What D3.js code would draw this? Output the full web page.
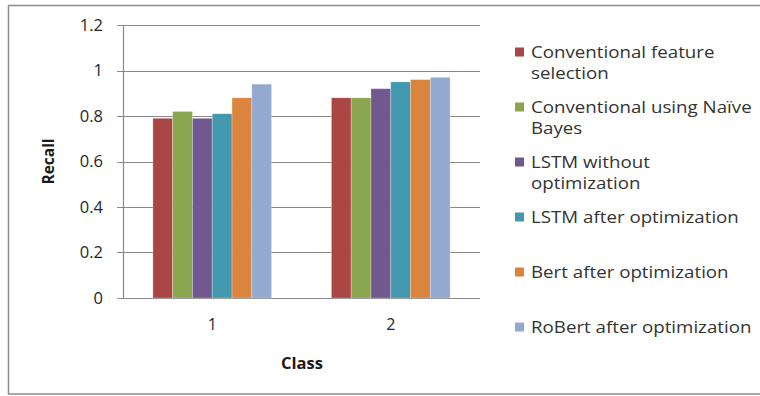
<!DOCTYPE html>
<html>
<head>
<meta charset="utf-8">
<script src="https://cdn.jsdelivr.net/npm/d3@7/dist/d3.min.js"></script>
<style>
  html, body { margin: 0; padding: 0; background: #fff; }
  svg { display: block; }
  text { font-family: "Open Sans", "DejaVu Sans", sans-serif; }
</style>
</head>
<body>
<svg id="chart" width="760" height="396"></svg>
<script>
// Recall per class for each method
const categories = ["1", "2"];
const seriesNames = [
  "Conventional feature selection",
  "Conventional using Naïve Bayes",
  "LSTM without optimization",
  "LSTM after optimization",
  "Bert after optimization",
  "RoBert after optimization"
];
const conventionalFeature = [0.79, 0.88];
const conventionalNB = [0.82, 0.88];
const lstmWithout = [0.79, 0.92];
const lstmAfter = [0.81, 0.95];
const bertAfter = [0.88, 0.96];
const robertAfter = [0.94, 0.97];
const seriesValues = [conventionalFeature, conventionalNB, lstmWithout, lstmAfter, bertAfter, robertAfter];
const yTicks = [0, 0.2, 0.4, 0.6, 0.8, 1, 1.2];
const legendLines = [
  ["Conventional feature", "selection"],
  ["Conventional using Naïve", "Bayes"],
  ["LSTM without", "optimization"],
  ["LSTM after optimization"],
  ["Bert after optimization"],
  ["RoBert after optimization"]
];
const colors = ["#AA4643", "#89A54E", "#71588F", "#4198AF", "#DB843D", "#93A9CF"];

const svg = d3.select("#chart");

// outer frame (right edge falls outside the canvas)
svg.append("rect")
  .attr("x", 8.5).attr("y", 5.5)
  .attr("width", 760).attr("height", 388.5)
  .attr("fill", "none").attr("stroke", "#8c8c8c").attr("stroke-width", 1.5);

const plot = { left: 123, right: 480, top: 25, bottom: 298 };

const x0 = d3.scaleBand()
  .domain(categories)
  .range([plot.left, plot.right])
  .paddingInner(0.335)
  .paddingOuter(0.1675);

const x1 = d3.scaleBand()
  .domain(d3.range(seriesNames.length))
  .range([0, x0.bandwidth()]);

const y = d3.scaleLinear().domain([0, 1.2]).range([plot.bottom, plot.top]);

// gridlines
svg.append("g")
  .selectAll("line")
  .data(yTicks)
  .join("line")
  .attr("x1", plot.left - 6).attr("x2", plot.right)
  .attr("y1", d => Math.round(y(d)) + 0.5).attr("y2", d => Math.round(y(d)) + 0.5)
  .attr("stroke", "#8a8a8a").attr("stroke-width", 1.2);

// y axis line
svg.append("line")
  .attr("x1", plot.left + 0.5).attr("x2", plot.left + 0.5)
  .attr("y1", plot.top).attr("y2", plot.bottom + 1)
  .attr("stroke", "#8a8a8a").attr("stroke-width", 1.2);

// y tick labels
const yAxis = d3.axisLeft(y).tickValues(yTicks).tickSize(0).tickPadding(20).tickFormat(d3.format("~g"));
const gy = svg.append("g").attr("transform", `translate(${plot.left},0)`).call(yAxis);
gy.select(".domain").remove();
gy.selectAll("text")
  .attr("font-size", 16.5)
  .attr("fill", "#262626")
  .style("font-family", "'Open Sans', sans-serif");

// x tick labels
const xAxis = d3.axisBottom(x0).tickSize(0).tickPadding(21);
const gx = svg.append("g").attr("transform", `translate(0,${plot.bottom})`).call(xAxis);
gx.select(".domain").remove();
gx.selectAll("text")
  .attr("font-size", 16)
  .attr("fill", "#262626")
  .style("font-family", "'Open Sans', sans-serif");

// bars
const groups = svg.append("g")
  .selectAll("g")
  .data(categories)
  .join("g")
  .attr("transform", d => `translate(${x0(d)},0)`);

groups.selectAll("rect")
  .data((c, ci) => seriesValues.map((vals, si) => ({ si, v: vals[ci] })))
  .join("rect")
  .attr("x", d => x1(d.si))
  .attr("width", x1.bandwidth())
  .attr("y", d => y(d.v))
  .attr("height", d => y(0) - y(d.v))
  .attr("fill", d => colors[d.si])
  .attr("stroke", "#ffffff")
  .attr("stroke-opacity", 0.35)
  .attr("stroke-width", 0.8);

// axis titles
svg.append("text")
  .attr("transform", `translate(54,${(plot.top + plot.bottom) / 2}) rotate(-90)`)
  .attr("text-anchor", "middle")
  .attr("font-size", 15.5).attr("font-weight", "bold")
  .attr("fill", "#1a1a1a")
  .style("font-family", "'Open Sans', sans-serif")
  .text("Recall");

svg.append("text")
  .attr("x", 302).attr("y", 369)
  .attr("text-anchor", "middle")
  .attr("font-size", 16.5).attr("font-weight", "bold")
  .attr("fill", "#1a1a1a")
  .style("font-family", "'Open Sans', sans-serif")
  .text("Class");

// legend
const legendRowY = [52, 107, 162, 217, 272, 327];
const legend = svg.append("g");
const items = legend.selectAll("g")
  .data(seriesNames)
  .join("g")
  .attr("transform", (d, i) => `translate(515,${legendRowY[i]})`);

items.append("rect")
  .attr("x", 0).attr("y", -4.5)
  .attr("width", 9).attr("height", 9)
  .attr("fill", (d, i) => colors[i]);

items.each(function (d, i) {
  const t = d3.select(this).append("g")
    .attr("transform", "translate(16,0) scale(1.17,1)")
    .append("text")
    .attr("x", 0).attr("y", 5.5)
    .attr("font-size", 16)
    .attr("fill", "#333333")
    .style("font-family", "'Open Sans', sans-serif");
  legendLines[i].forEach((line, li) => {
    t.append("tspan").attr("x", 0).attr("dy", li === 0 ? 0 : 22).text(line);
  });
});
</script>
</body>
</html>
